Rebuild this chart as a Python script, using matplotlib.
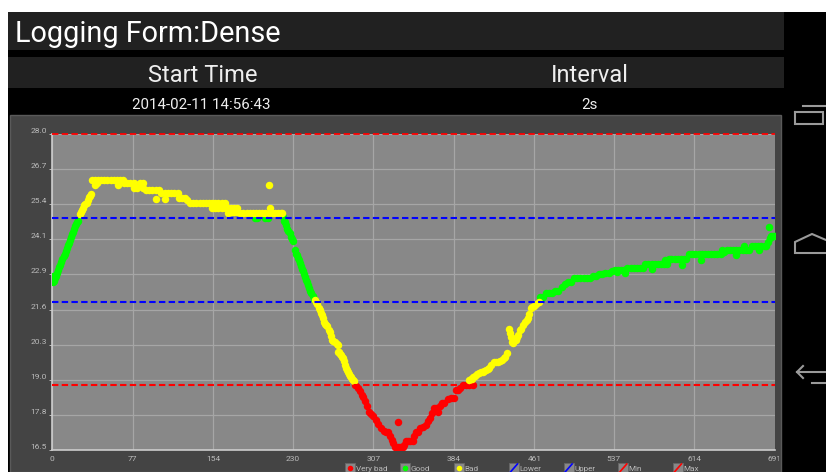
import matplotlib
matplotlib.use('Agg')
from matplotlib import pyplot as plt
from matplotlib.patches import Rectangle
from matplotlib.transforms import Bbox

plt.rcParams['font.family'] = ['Roboto', 'DejaVu Sans']
plt.rcParams['lines.scale_dashes'] = False

title = 'Logging Form:Dense'
col_names = ['Start Time', 'Interval']
col_values = ['2014-02-11 14:56:43', '2s']
legend_names = ['Very bad', 'Good', 'Bad', 'Lower', 'Upper', 'Min', 'Max']

x_ticks = [0, 77, 154, 230, 307, 384, 461, 537, 614, 691]
y_ticks = [16.5, 17.78, 19.06, 20.33, 21.61, 22.89, 24.17, 25.44, 26.72, 28.0]
y_labels = ['16.5', '17.8', '19.0', '20.3', '21.6', '22.9', '24.1', '25.4', '26.7', '28.0']

max_limit = 28.0
upper_limit = 24.94
lower_limit = 21.9
min_limit = 18.87

verybad_x = [290, 292, 294, 296, 297, 299, 301, 303, 305, 307, 310, 312, 314, 317, 319, 321,
             323, 325, 326, 328, 329, 331, 333, 335, 336, 338, 340, 342, 345, 346, 348, 350,
             352, 355, 357, 359, 361, 363, 365, 367, 369, 371, 373, 375, 378, 381, 384, 386,
             388, 390, 393, 396, 399, 402, 331]
verybad_y = [18.87, 18.75, 18.65, 18.5, 18.43, 18.3, 18.1, 17.9, 17.8, 17.72, 17.6, 17.45, 17.3,
             17.2, 17.16, 17.16, 17.0, 16.85, 16.75, 16.62, 16.6, 16.6, 16.6, 16.6, 16.7, 16.83,
             16.83, 16.83, 16.83, 17.0, 17.16, 17.16, 17.3, 17.34, 17.4, 17.55, 17.66, 17.85,
             18.03, 18.03, 17.9, 18.1, 18.2, 18.2, 18.36, 18.38, 18.39, 18.68, 18.68, 18.75,
             18.87, 18.87, 18.87, 18.87, 17.52]

good_x = [1, 1, 2, 3, 4, 5, 6, 7, 8, 9, 10, 11, 12, 13, 14, 15, 16, 17, 18, 19, 20, 21, 22, 23, 24, 25,
          194, 196, 204, 206,
          220, 221, 222, 223, 224, 225, 226, 227, 228, 229, 230, 232, 233, 234, 235, 236, 237, 238,
          239, 240, 241, 242, 243, 244, 245, 246, 247, 248, 249, 250, 251,
          466, 469, 472, 475, 478, 481, 484, 487, 490, 493, 496, 499, 502, 505, 508, 511, 514,
          517, 520, 523, 526, 529, 532, 535, 538, 540, 541, 544, 547, 548, 550, 553, 556, 559,
          562, 565, 567, 570, 573, 573, 576, 579, 582, 585, 586, 588, 590, 592, 595, 598, 601,
          602, 604, 606, 609, 612, 615, 618, 620, 621, 624, 627, 630, 633, 636, 639, 640, 642,
          645, 648, 651, 654, 654, 657, 660, 661, 663, 666, 669, 672, 675, 676, 678, 681, 682,
          684, 686, 687, 689, 691, 685]
good_y = [22.85, 22.6, 22.65, 22.75, 22.85, 22.95, 23.05, 23.15, 23.25, 23.35, 23.45, 23.55, 23.65,
          23.75, 23.85, 23.95, 24.05, 24.15, 24.25, 24.35, 24.45, 24.55, 24.65, 24.72, 24.8, 24.85,
          24.95, 24.95, 24.95, 24.95,
          25.05, 24.98, 24.85, 24.78, 24.7, 24.55, 24.48, 24.4, 24.25, 24.18, 24.1, 23.78, 23.65,
          23.58, 23.5, 23.4, 23.3, 23.2, 23.1, 23.0, 22.9, 22.8, 22.7, 22.6, 22.5, 22.4, 22.3, 22.2,
          22.1, 22.0, 21.96,
          22.05, 22.05, 22.2, 22.2, 22.2, 22.3, 22.3, 22.45, 22.55, 22.6, 22.6, 22.75, 22.75,
          22.75, 22.75, 22.75, 22.75, 22.85, 22.85, 22.9, 22.9, 22.95, 22.95, 23.0, 23.05, 22.98,
          23.05, 23.05, 23.05, 22.94, 23.12, 23.12, 23.12, 23.12, 23.12, 23.12, 23.27, 23.27,
          23.27, 23.09, 23.27, 23.27, 23.27, 23.27, 23.41, 23.27, 23.45, 23.45, 23.45, 23.45,
          23.45, 23.23, 23.45, 23.45, 23.62, 23.62, 23.62, 23.62, 23.41, 23.62, 23.62, 23.62,
          23.62, 23.62, 23.62, 23.62, 23.78, 23.7, 23.78, 23.78, 23.78, 23.78, 23.6, 23.78, 23.78,
          23.92, 23.78, 23.78, 23.92, 23.92, 23.92, 23.78, 23.92, 23.92, 23.92, 24.07, 24.2, 24.29,
          24.29, 24.29, 24.62]

bad_x = [27, 28, 29, 30, 31, 32, 33, 34, 35, 36, 37,
         38, 41, 41, 43, 44, 47, 50, 53, 56, 59, 62, 63, 65, 68,
         69, 72, 75, 78, 78, 81, 84, 87, 87,
         90, 93, 96, 99, 99, 102, 104, 108, 108, 111, 114, 117, 120,
         121, 124, 127, 129, 132, 135, 138, 141, 144, 147, 150, 153, 153, 156, 156, 159, 159,
         162, 162, 165, 165, 168, 168, 171, 171, 174, 174, 177, 177, 180,
         183, 186, 189, 192, 195, 198, 201, 204, 207, 207, 208, 210, 213, 216, 219, 220,
         251, 252, 253, 255, 256, 257, 258, 259, 260, 261, 262, 263, 265, 266, 267, 268, 269, 270,
         272, 273, 273, 274, 275, 276, 277, 278, 279, 280, 281, 282, 283, 284, 285, 286, 287, 288, 289,
         399, 400, 401, 402, 404, 406, 408, 410, 412, 413, 415, 417, 418, 420, 422, 424, 426, 428,
         430, 432, 433, 435,
         437, 438, 439, 440, 441, 442, 443, 444, 445, 447, 448, 450, 452, 454, 455, 456, 458, 459,
         461, 463, 465]
bad_y = [25.1, 25.17, 25.24, 25.3, 25.4, 25.45, 25.5, 25.6, 25.7, 25.75, 25.8,
         26.33, 26.33, 26.15, 26.2, 26.33, 26.33, 26.33, 26.33, 26.33, 26.33, 26.33, 26.15,
         26.33, 26.33,
         26.2, 26.2, 26.2, 26.2, 26.03, 26.05, 26.2, 26.2, 26.03,
         25.96, 25.96, 25.96, 25.96, 25.63, 25.96, 25.85, 25.85, 25.63, 25.85, 25.85, 25.85, 25.85,
         25.67, 25.67, 25.67, 25.6, 25.49, 25.49, 25.49, 25.49, 25.49, 25.49, 25.49, 25.49, 25.3,
         25.49, 25.3, 25.49, 25.3, 25.49, 25.3, 25.49, 25.3, 25.3, 25.12, 25.3, 25.16, 25.3, 25.16,
         25.3, 25.16, 25.13,
         25.13, 25.13, 25.13, 25.13, 25.13, 25.13, 25.13, 25.13, 25.13, 26.14, 25.3, 25.13, 25.13,
         25.13, 25.13, 25.13,
         21.96, 21.9, 21.8, 21.67, 21.6, 21.5, 21.4, 21.3, 21.16, 21.1, 21.05, 21.0, 20.87, 20.78,
         20.65, 20.5, 20.45, 20.42, 20.35, 20.32, 20.07, 20.05, 20.0, 19.95, 19.9, 19.85, 19.75,
         19.6, 19.48, 19.42, 19.35, 19.28, 19.2, 19.15, 19.1, 19.05, 19.0,
         19.05, 19.08, 19.1, 19.15, 19.2, 19.28, 19.3, 19.33, 19.34, 19.36, 19.4, 19.45, 19.48,
         19.6, 19.7, 19.7, 19.72, 19.75, 19.78, 19.85, 19.9, 20.03,
         20.9, 20.75, 20.6, 20.43, 20.4, 20.45, 20.52, 20.6, 20.7, 20.87, 20.92, 21.05, 21.15, 21.23,
         21.3, 21.45, 21.67, 21.7, 21.75, 21.8, 21.89]


# chrome is drawn in screen pixels on a full size axes
fig = plt.figure(figsize=(8.26, 4.72), dpi=100, facecolor='white')
bg = fig.add_axes([0, 0, 1, 1], zorder=0)
bg.set_xlim(0, 826)
bg.set_ylim(472, 0)
bg.axis('off')

bg.add_patch(Rectangle((8, 12), 818, 460, fc='black', ec='none'))
bg.add_patch(Rectangle((8, 12), 776, 38, fc='#212121', ec='none'))
bg.add_patch(Rectangle((8, 57), 776, 31, fc='#212121', ec='none'))
bg.add_patch(Rectangle((10, 115), 771, 357, fc='#444444', ec='#5a5a5a', lw=1))

bg.text(15, 34, title, color='white', fontsize=20.8, va='center', ha='left')
bg.text(202.5, 75.5, col_names[0], color='#eeeeee', fontsize=17, va='center', ha='center')
bg.text(589.5, 75.5, col_names[1], color='#eeeeee', fontsize=17, va='center', ha='center')
bg.text(201.5, 105, col_values[0], color='#eeeeee', fontsize=10.9, va='center', ha='center')
bg.text(589, 105, col_values[1], color='#eeeeee', fontsize=10.9, va='center', ha='center')

# nav bar icons
nav = dict(color='#9a9a9a', lw=1.5, solid_joinstyle='miter')
bg.plot([795, 823, 823, 795, 795], [112, 112, 124, 124, 112], **nav)
bg.plot([803, 826], [106, 106], **nav)
bg.plot([826, 812, 795, 795, 826], [240, 234, 242, 253, 253], **nav)
bg.plot([803, 797, 803], [366, 372, 378], **nav)
bg.plot([797, 826], [372, 372], **nav)
bg.plot([812, 826], [383, 383], **nav)

# legend along the bottom, cut by the screenshot
legend_colors = ['#ff0000', '#00ff00', '#ffff00', '#0000ff', '#0000ff', '#ff0000', '#ff0000']
for i, name in enumerate(legend_names):
    lx = 345 + i * 54.65
    bg.add_patch(Rectangle((lx, 463), 10, 10, fc='#888888', ec='#666666', lw=0.7))
    if i < 3:
        bg.plot([lx + 5], [467.5], 'o', color=legend_colors[i], ms=4, mew=0)
    else:
        bg.plot([lx + 1.5, lx + 8.5], [472, 464], color=legend_colors[i], lw=1.2)
    bg.text(lx + 10.5, 466, name, color='#bbbbbb', fontsize=5.9, va='top', ha='left')

ax = fig.add_axes([52 / 826, (472 - 450) / 472, (775 - 52) / 826, (450 - 134) / 472], zorder=1)
ax.set_facecolor('#888888')
ax.set_xlim(0, 691)
ax.set_ylim(16.5, 28.0)
for s in ['top', 'right']:
    ax.spines[s].set_visible(False)
for s in ['left', 'bottom']:
    ax.spines[s].set_color('#cccccc')
    ax.spines[s].set_linewidth(1.2)

ax.set_xticks(x_ticks)
ax.set_yticks(y_ticks)
ax.set_yticklabels(y_labels, va='bottom')
ax.tick_params(axis='x', length=0, pad=4, labelsize=6, labelcolor='#bbbbbb')
ax.tick_params(axis='y', length=2.5, width=0.7, color='#bbbbbb', pad=1, labelsize=6,
               labelcolor='#bbbbbb')
ax.grid(True, color='#a6a6a6', lw=0.9)
ax.set_axisbelow(True)
ax.xaxis.get_gridlines()[-1].set_visible(False)

# the last x label runs off the panel
for lab in ax.get_xticklabels():
    lab.set_clip_box(Bbox([[10, 0], [779, 472]]))
    lab.set_clip_on(True)

ax.scatter(verybad_x, verybad_y, s=29, color='#ff0000', linewidths=0, zorder=3)
ax.scatter(good_x, good_y, s=29, color='#00ff00', linewidths=0, zorder=3)
ax.scatter(bad_x, bad_y, s=29, color='#ffff00', linewidths=0, zorder=3)

dash = (0, (4.6, 2.4))
ax.axhline(max_limit, color='#ff0000', lw=1.3, ls=dash, zorder=4, clip_on=False)
ax.axhline(upper_limit, color='#0000ff', lw=1.5, ls=dash, zorder=4)
ax.axhline(lower_limit, color='#0000ff', lw=1.5, ls=dash, zorder=4)
ax.axhline(min_limit, color='#ff0000', lw=1.5, ls=dash, zorder=4)

plt.savefig('out.png', dpi=100)
